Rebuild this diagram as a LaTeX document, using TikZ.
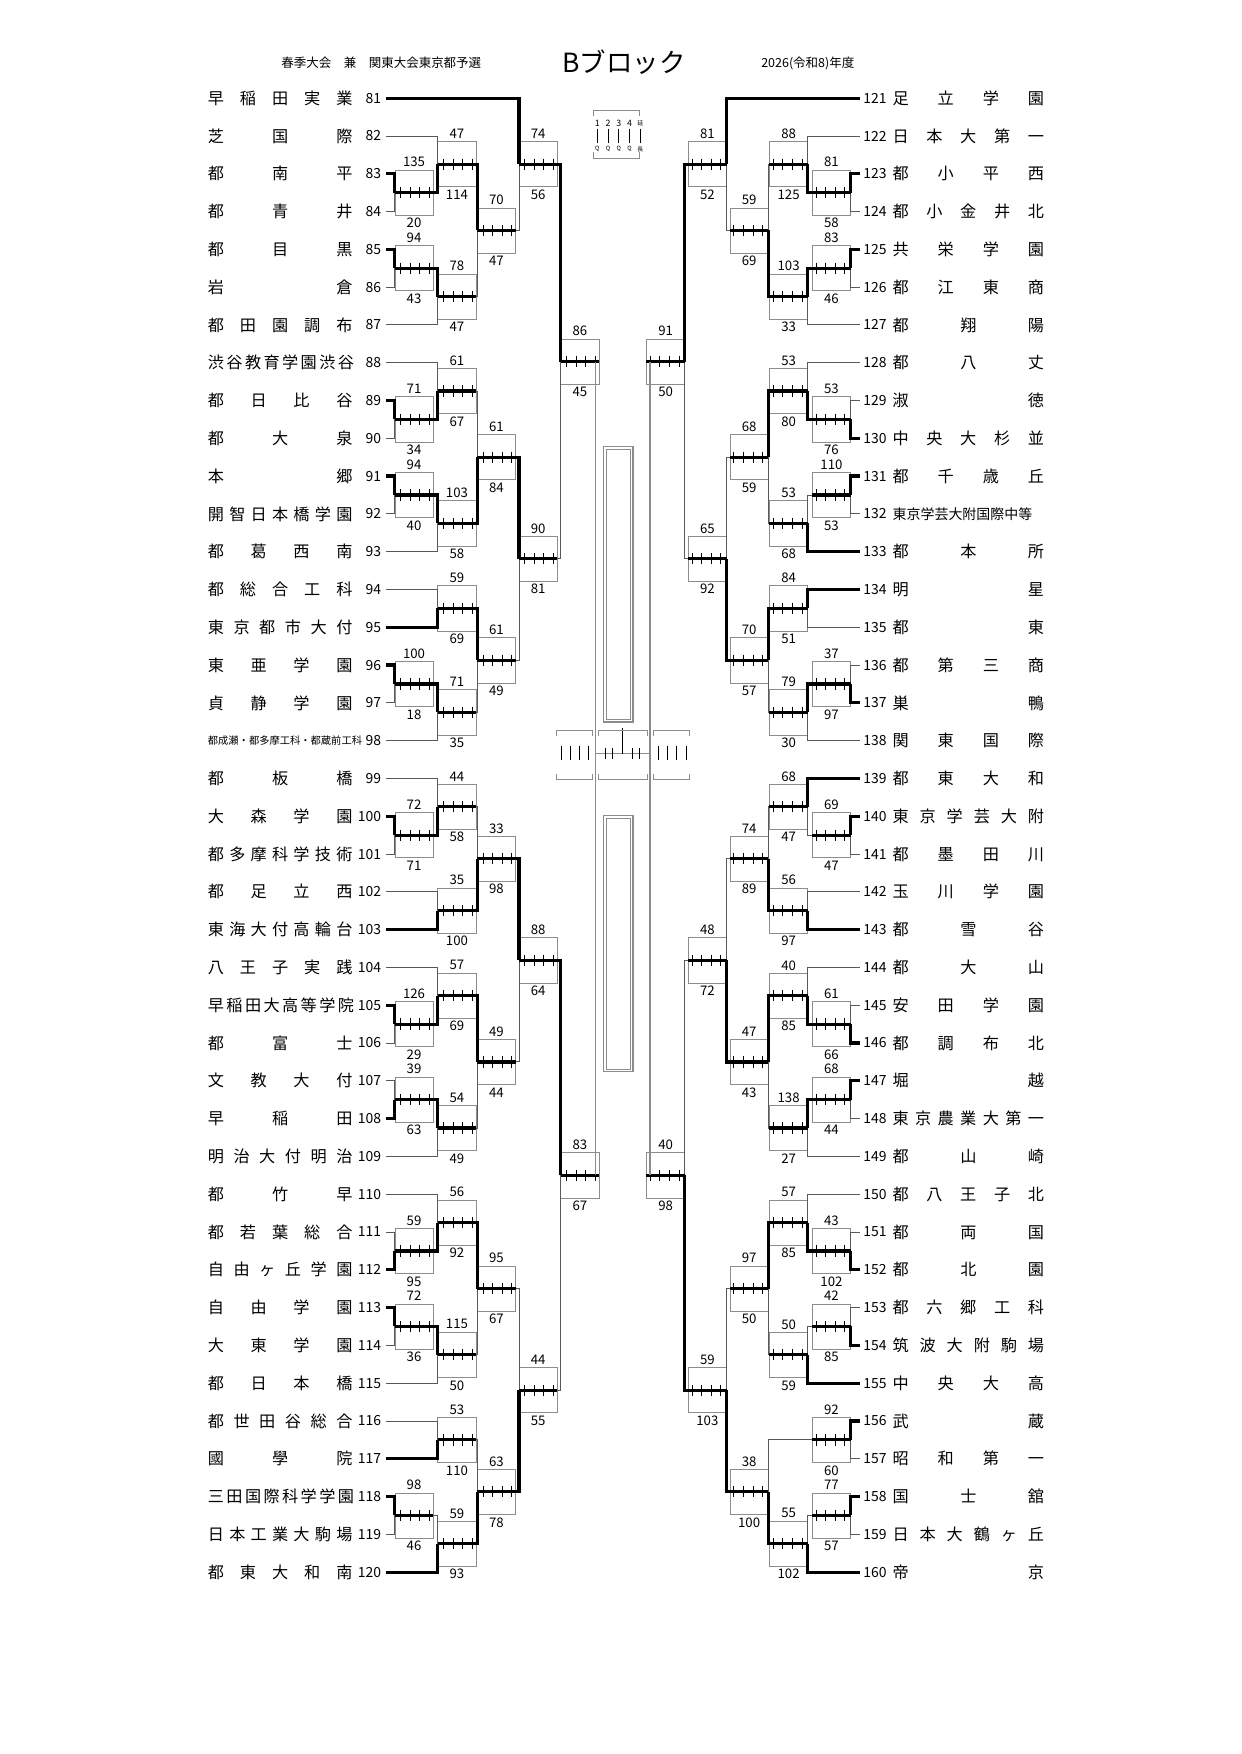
\documentclass[tikz,border=0pt]{standalone}
\usepackage{fontspec}
\setmainfont{Noto Sans CJK JP}
\newfontfamily\jp{Noto Sans CJK JP}

% column edges of the bracket (left side, in sheet px)
\def\colx#1{\ifcase#1 342\or 350\or 388\or 423\or 460\or 497\fi}
\def\srcx#1{\ifcase#1 342\or 384\or 422\or 457\or 494\or 531\fi}
\newcounter{mc}

\tikzset{
  win/.style={line width=2.2pt, black},
  lose/.style={line width=0.6pt, black!65},
  boxline/.style={line width=0.5pt, black!45},
  tickline/.style={line width=0.6pt, black},
  score/.style={inner sep=0pt, font=\fontsize{9}{9}\selectfont},
  num/.style={inner sep=0pt, font=\fontsize{9.5}{10}\selectfont},
  team/.style={inner sep=0pt, font=\fontsize{11}{11}\selectfont},
}

% one game: column, top source col, top row, top score, bottom source col, bottom row, bottom score
\newcommand\mt[7]{%
  \stepcounter{mc}%
  \pgfmathsetmacro\ya{87+33.5*#3}%
  \pgfmathsetmacro\yb{87+33.5*#6}%
  \pgfmathsetmacro\ym{(\ya+\yb)/2}%
  \edef\X{\colx{#1}}%
  \pgfmathsetmacro\XR{\X+34}%
  \ifnum#4>#7 \def\sa{win}\def\sb{lose}\else\def\sa{lose}\def\sb{win}\fi
  \draw[boxline] (\X,\ym-20) rectangle (\XR,\ym+20);
  \draw[\sb] (\srcx{#5},\yb) -- (\X,\yb) -- (\X,\ym);
  \draw[\sa] (\srcx{#2},\ya) -- (\X,\ya) -- (\X,\ym);
  \draw[win] (\X,\ym) -- (\XR,\ym);
  \foreach \k in {0.15,0.4,0.65,0.9}
    \draw[tickline] (\X+34*\k,\ym-5) -- ++(0,10);
  \node[score] (g\arabic{mc}a) at (\X+17,\ym-27) {#4};
  \node[score] (g\arabic{mc}b) at (\X+17,\ym+27) {#7};
}
% team on the left / right
\newcommand\lt[3]{%
  \node[num, anchor=east] (n#2) at (338,87+33.5*#1) {#2};
  \node[team, anchor=west] (t#2) at (184,87+33.5*#1) {\makebox[34.6mm][s]{#3}};
}
\newcommand\rt[3]{%
  \node[num, anchor=west] (n#2) at (765,87+33.5*#1) {#2};
  \node[team, anchor=west] (t#2) at (791,87+33.5*#1) {\makebox[36.2mm][s]{#3}};
}

\begin{document}
\begin{tikzpicture}[x=0.27mm, y=-0.27mm]
\useasboundingbox (0,0) rectangle (1100,1554.7);

% heading
\node[inner sep=0pt, font=\fontsize{8.5}{9}\selectfont] (hd1) at (338,56) {春季大会　兼　関東大会東京都予選};
\node[inner sep=0pt, font=\fontsize{18}{18}\selectfont] (hd2) at (553,55) {Bブロック};
\node[inner sep=0pt, font=\fontsize{8.5}{9}\selectfont] (hd3) at (716,56) {2026(令和8)年度};

% legend
\draw[boxline] (526,103) -- (526,98) -- (567,98) -- (567,103);
\draw[boxline] (526,135) -- (526,140) -- (567,140) -- (567,135);
\foreach \i/\t in {1/1,2/2,3/3,4/4} {
  \node[inner sep=0pt, font=\fontsize{6}{6}\selectfont] (lg\i) at (520+9.5*\i,109) {\t};
  \draw[tickline] (520+9.5*\i,114) -- ++(0,13);
  \node[inner sep=0pt, font=\fontsize{4}{4}\selectfont] (lq\i) at (520+9.5*\i,132) {Q};
}
\node[inner sep=0pt, font=\fontsize{4}{4}\selectfont] (lg5) at (567.5,109) {延};
\draw[tickline] (567.5,114) -- ++(0,13);
\node[inner sep=0pt, font=\fontsize{4}{4}\selectfont] (lq5) at (567.5,132) {長};

% left teams
\lt{0}{81}{早 稲 田 実 業}
\lt{1}{82}{芝 国 際}
\lt{2}{83}{都 南 平}
\lt{3}{84}{都 青 井}
\lt{4}{85}{都 目 黒}
\lt{5}{86}{岩 倉}
\lt{6}{87}{都 田 園 調 布}
\lt{7}{88}{渋 谷 教 育 学 園 渋 谷}
\lt{8}{89}{都 日 比 谷}
\lt{9}{90}{都 大 泉}
\lt{10}{91}{本 郷}
\lt{11}{92}{開 智 日 本 橋 学 園}
\lt{12}{93}{都 葛 西 南}
\lt{13}{94}{都 総 合 工 科}
\lt{14}{95}{東 京 都 市 大 付}
\lt{15}{96}{東 亜 学 園}
\lt{16}{97}{貞 静 学 園}
\node[num, anchor=east] (n98) at (338,87+33.5*17) {98};
\node[inner sep=0pt, anchor=west, font=\fontsize{7}{8}\selectfont] (t98) at (184,87+33.5*17) {都成瀬・都多摩工科・都蔵前工科};
\lt{18}{99}{都 板 橋}
\lt{19}{100}{大 森 学 園}
\lt{20}{101}{都 多 摩 科 学 技 術}
\lt{21}{102}{都 足 立 西}
\lt{22}{103}{東 海 大 付 高 輪 台}
\lt{23}{104}{八 王 子 実 践}
\lt{24}{105}{早 稲 田 大 高 等 学 院}
\lt{25}{106}{都 富 士}
\lt{26}{107}{文 教 大 付}
\lt{27}{108}{早 稲 田}
\lt{28}{109}{明 治 大 付 明 治}
\lt{29}{110}{都 竹 早}
\lt{30}{111}{都 若 葉 総 合}
\lt{31}{112}{自 由 ヶ 丘 学 園}
\lt{32}{113}{自 由 学 園}
\lt{33}{114}{大 東 学 園}
\lt{34}{115}{都 日 本 橋}
\lt{35}{116}{都 世 田 谷 総 合}
\lt{36}{117}{國 學 院}
\lt{37}{118}{三 田 国 際 科 学 学 園}
\lt{38}{119}{日 本 工 業 大 駒 場}
\lt{39}{120}{都 東 大 和 南}

% right teams
\rt{0}{121}{足 立 学 園}
\rt{1}{122}{日 本 大 第 一}
\rt{2}{123}{都 小 平 西}
\rt{3}{124}{都 小 金 井 北}
\rt{4}{125}{共 栄 学 園}
\rt{5}{126}{都 江 東 商}
\rt{6}{127}{都 翔 陽}
\rt{7}{128}{都 八 丈}
\rt{8}{129}{淑 徳}
\rt{9}{130}{中 央 大 杉 並}
\rt{10}{131}{都 千 歳 丘}
\node[num, anchor=west] (n132) at (765,87+33.5*11) {132};
\node[inner sep=0pt, anchor=west, font=\fontsize{9.5}{10}\selectfont] (t132) at (791,87+33.5*11) {東京学芸大附国際中等};
\rt{12}{133}{都 本 所}
\rt{13}{134}{明 星}
\rt{14}{135}{都 東}
\rt{15}{136}{都 第 三 商}
\rt{16}{137}{巣 鴨}
\rt{17}{138}{関 東 国 際}
\rt{18}{139}{都 東 大 和}
\rt{19}{140}{東 京 学 芸 大 附}
\rt{20}{141}{都 墨 田 川}
\rt{21}{142}{玉 川 学 園}
\rt{22}{143}{都 雪 谷}
\rt{23}{144}{都 大 山}
\rt{24}{145}{安 田 学 園}
\rt{25}{146}{都 調 布 北}
\rt{26}{147}{堀 越}
\rt{27}{148}{東 京 農 業 大 第 一}
\rt{28}{149}{都 山 崎}
\rt{29}{150}{都 八 王 子 北}
\rt{30}{151}{都 両 国}
\rt{31}{152}{都 北 園}
\rt{32}{153}{都 六 郷 工 科}
\rt{33}{154}{筑 波 大 附 駒 場}
\rt{34}{155}{中 央 大 高}
\rt{35}{156}{武 蔵}
\rt{36}{157}{昭 和 第 一}
\rt{37}{158}{国 士 舘}
\rt{38}{159}{日 本 大 鶴 ヶ 丘}
\rt{39}{160}{帝 京}

% left bracket
\mt{1}{0}{2}{135}{0}{3}{20}
\mt{2}{0}{1}{47}{1}{2.5}{114}
\mt{1}{0}{4}{94}{0}{5}{43}
\mt{2}{1}{4.5}{78}{0}{6}{47}
\mt{3}{2}{1.75}{70}{2}{5.25}{47}
\mt{4}{0}{0}{74}{3}{3.5}{56}
\mt{1}{0}{8}{71}{0}{9}{34}
\mt{2}{0}{7}{61}{1}{8.5}{67}
\mt{1}{0}{10}{94}{0}{11}{40}
\mt{2}{1}{10.5}{103}{0}{12}{58}
\mt{3}{2}{7.75}{61}{2}{11.25}{84}
\mt{2}{0}{13}{59}{0}{14}{69}
\mt{1}{0}{15}{100}{0}{16}{18}
\mt{2}{1}{15.5}{71}{0}{17}{35}
\mt{3}{2}{13.5}{61}{2}{16.25}{49}
\mt{4}{3}{9.5}{90}{3}{14.875}{81}
\mt{5}{4}{1.75}{86}{4}{12.1875}{45}
\mt{1}{0}{19}{72}{0}{20}{71}
\mt{2}{0}{18}{44}{1}{19.5}{58}
\mt{2}{0}{21}{35}{0}{22}{100}
\mt{3}{2}{18.75}{33}{2}{21.5}{98}
\mt{1}{0}{24}{126}{0}{25}{29}
\mt{2}{0}{23}{57}{1}{24.5}{69}
\mt{1}{0}{26}{39}{0}{27}{63}
\mt{2}{1}{26.5}{54}{0}{28}{49}
\mt{3}{2}{23.75}{49}{2}{27.25}{44}
\mt{4}{3}{20.125}{88}{3}{25.5}{64}
\mt{1}{0}{30}{59}{0}{31}{95}
\mt{2}{0}{29}{56}{1}{30.5}{92}
\mt{1}{0}{32}{72}{0}{33}{36}
\mt{2}{1}{32.5}{115}{0}{34}{50}
\mt{3}{2}{29.75}{95}{2}{33.25}{67}
\mt{2}{0}{35}{53}{0}{36}{110}
\mt{1}{0}{37}{98}{0}{38}{46}
\mt{2}{1}{37.5}{59}{0}{39}{93}
\mt{3}{2}{35.5}{63}{2}{38.25}{78}
\mt{4}{3}{31.5}{44}{3}{36.875}{55}
\mt{5}{4}{22.8125}{83}{4}{34.1875}{67}

% right bracket, mirrored
\begin{scope}[xshift=298.08mm, xscale=-1]
\mt{1}{0}{2}{81}{0}{3}{58}
\mt{2}{0}{1}{88}{1}{2.5}{125}
\mt{1}{0}{4}{83}{0}{5}{46}
\mt{2}{1}{4.5}{103}{0}{6}{33}
\mt{3}{2}{1.75}{59}{2}{5.25}{69}
\mt{4}{0}{0}{81}{3}{3.5}{52}
\mt{1}{0}{8}{53}{0}{9}{76}
\mt{2}{0}{7}{53}{1}{8.5}{80}
\mt{1}{0}{10}{110}{0}{11}{53}
\mt{2}{1}{10.5}{53}{0}{12}{68}
\mt{3}{2}{7.75}{68}{2}{11.25}{59}
\mt{2}{0}{13}{84}{0}{14}{51}
\mt{1}{0}{15}{37}{0}{16}{97}
\mt{2}{1}{15.5}{79}{0}{17}{30}
\mt{3}{2}{13.5}{70}{2}{16.25}{57}
\mt{4}{3}{9.5}{65}{3}{14.875}{92}
\mt{5}{4}{1.75}{91}{4}{12.1875}{50}
\mt{1}{0}{19}{69}{0}{20}{47}
\mt{2}{0}{18}{68}{1}{19.5}{47}
\mt{2}{0}{21}{56}{0}{22}{97}
\mt{3}{2}{18.75}{74}{2}{21.5}{89}
\mt{1}{0}{24}{61}{0}{25}{66}
\mt{2}{0}{23}{40}{1}{24.5}{85}
\mt{1}{0}{26}{68}{0}{27}{44}
\mt{2}{1}{26.5}{138}{0}{28}{27}
\mt{3}{2}{23.75}{47}{2}{27.25}{43}
\mt{4}{3}{20.125}{48}{3}{25.5}{72}
\mt{1}{0}{30}{43}{0}{31}{102}
\mt{2}{0}{29}{57}{1}{30.5}{85}
\mt{1}{0}{32}{42}{0}{33}{85}
\mt{2}{1}{32.5}{50}{0}{34}{59}
\mt{3}{2}{29.75}{97}{2}{33.25}{50}
\mt{1}{0}{35}{92}{0}{36}{60}
\mt{1}{0}{37}{77}{0}{38}{57}
\mt{2}{1}{37.5}{55}{0}{39}{102}
\mt{3}{1}{35.5}{38}{2}{38.25}{100}
\mt{4}{3}{31.5}{59}{3}{36.875}{103}
\mt{5}{4}{22.8125}{40}{4}{34.1875}{98}
\end{scope}

% centre: semi-finals and final
\draw[boxline, line width=0.9pt] (528,320.45) -- (528,1041.75);
\draw[boxline, line width=0.9pt] (576,320.45) -- (576,1041.75);
\draw[boxline] (528,668) -- (576,668);
\draw[tickline] (552,645) -- (552,668);
\foreach \x in {537,543,561,567} \draw[tickline] (\x,663) -- ++(0,10);
\foreach \x/\w in {493/32,530/44,579/32} {
  \draw[boxline] (\x,652) -- (\x,647) -- (\x+\w,647) -- (\x+\w,652);
  \draw[boxline] (\x,686) -- (\x,691) -- (\x+\w,691) -- (\x+\w,686);
}
\foreach \x in {498,506,514,522,584,592,600,608} \draw[tickline] (\x,661) -- ++(0,13);
% winner boxes
\foreach \ya/\yb in {396/640,723/950} {
  \draw[boxline, line width=0.8pt] (535,\ya) rectangle (561,\yb);
  \draw[boxline] (537.5,\ya+2.5) rectangle (558.5,\yb-2.5);
}
\end{tikzpicture}
\end{document}
